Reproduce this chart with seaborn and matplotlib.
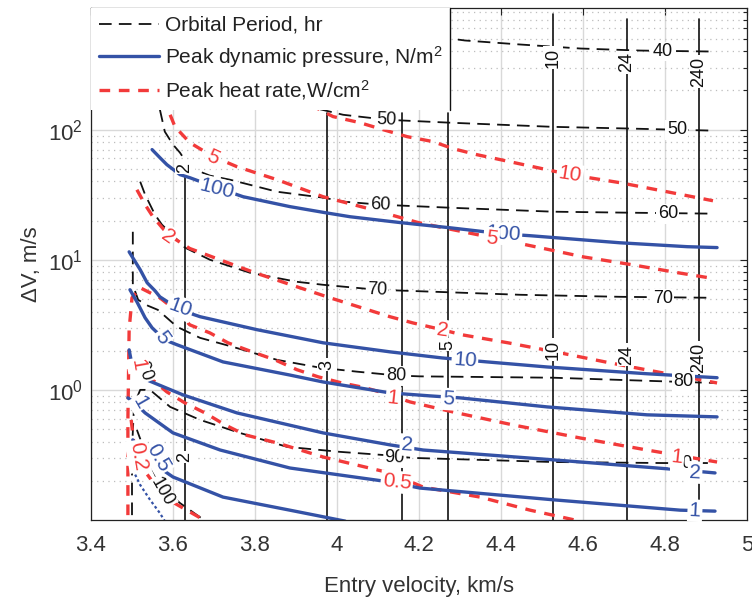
import numpy as np
import pandas as pd
import matplotlib
matplotlib.use("Agg")
import matplotlib.pyplot as plt
from matplotlib.lines import Line2D
import seaborn as sns

# ---------------- data ----------------
# Orbital period contours, hr (black dashed)
P40_X = [4.295, 4.312, 4.446, 4.593, 4.739, 4.917]
P40_Y = [492, 484, 451, 420, 405, 398]
P50_X = [3.910, 4.015, 4.122, 4.276, 4.527, 4.707, 4.917]
P50_Y = [156, 130, 119, 113, 105, 102, 98.2]
P60_X = [3.568, 3.580, 3.600, 3.617, 3.641, 3.690, 3.739, 3.854, 3.966, 4.020, 4.105, 4.276, 4.527, 4.707, 4.917]
P60_Y = [142.6, 96.5, 76.7, 66.5, 51.0, 44.3, 41.2, 33.3, 30.0, 27.9, 26.5, 25.1, 23.4, 23.0, 22.6]
P70_X = [3.520, 3.532, 3.544, 3.556, 3.573, 3.598, 3.629, 3.690, 3.788, 3.902, 3.966, 4.098, 4.446, 4.690, 4.917]
P70_Y = [39.8, 31.6, 26.5, 22.2, 18.6, 15.6, 12.4, 10.0, 7.94, 6.77, 6.42, 5.88, 5.38, 5.19, 5.10]
P80_X = [3.502, 3.502, 3.515, 3.539, 3.563, 3.610, 3.666, 3.746, 3.854, 3.959, 4.049, 4.146, 4.202, 4.527, 4.844, 4.922]
P80_Y = [16.4, 6.42, 4.92, 4.43, 4.12, 3.05, 2.51, 2.14, 1.70, 1.48, 1.38, 1.29, 1.27, 1.24, 1.15, 1.13]
P90_X = [3.500, 3.500, 3.505, 3.520, 3.544, 3.593, 3.666, 3.763, 3.878, 4.007, 4.112, 4.185, 4.527, 4.795, 4.922]
P90_Y = [0.109, 0.345, 0.767, 1.0, 1.0, 0.740, 0.588, 0.467, 0.365, 0.334, 0.316, 0.300, 0.279, 0.274, 0.274]
P100_X = [3.512, 3.539, 3.568, 3.617, 3.666, 3.680]
P100_Y = [0.492, 0.290, 0.186, 0.135, 0.105, 0.098]

# Peak dynamic pressure contours, N/m^2 (blue solid)
Q100_X = [3.549, 3.568, 3.585, 3.617, 3.641, 3.707, 3.771, 3.885, 3.971, 4.032, 4.154, 4.276, 4.405, 4.471, 4.690, 4.854, 4.927]
Q100_Y = [70.2, 60.9, 53.8, 45.1, 42.7, 35.8, 30.5, 25.6, 23.0, 21.4, 19.3, 17.6, 15.8, 15.3, 13.5, 12.6, 12.4]
Q10_X = [3.493, 3.520, 3.537, 3.556, 3.568, 3.617, 3.666, 3.805, 3.966, 4.129, 4.256, 4.366, 4.512, 4.756, 4.927]
Q10_Y = [11.5, 8.38, 6.65, 5.78, 5.19, 4.12, 3.65, 2.90, 2.30, 1.96, 1.76, 1.64, 1.50, 1.33, 1.24]
Q5_X = [3.495, 3.512, 3.532, 3.549, 3.580, 3.610, 3.722, 3.885, 3.966, 4.129, 4.227, 4.300, 4.512, 4.756, 4.927]
Q5_Y = [5.88, 4.75, 3.58, 3.0, 2.42, 2.22, 1.64, 1.30, 1.15, 0.948, 0.899, 0.868, 0.740, 0.643, 0.620]
Q2_X = [3.493, 3.500, 3.512, 3.537, 3.624, 3.756, 3.966, 4.129, 4.210, 4.527, 4.837, 4.922]
Q2_Y = [2.03, 1.56, 1.38, 1.19, 0.916, 0.665, 0.467, 0.378, 0.345, 0.290, 0.243, 0.230]
Q1_X = [3.490, 3.512, 3.532, 3.600, 3.715, 3.885, 4.129, 4.202, 4.527, 4.837, 4.922]
Q1_Y = [0.868, 0.767, 0.665, 0.467, 0.345, 0.251, 0.196, 0.176, 0.143, 0.119, 0.117]
Q05_X = [3.502, 3.532, 3.600, 3.722, 3.885, 4.020]
Q05_Y = [0.413, 0.300, 0.214, 0.150, 0.119, 0.098]
Q02_X = [3.502, 3.520, 3.544, 3.568, 3.580]
Q02_Y = [0.243, 0.186, 0.143, 0.113, 0.098]

# Peak heat rate contours, W/cm^2 (red dashed)
H10_X = [3.934, 3.990, 4.056, 4.112, 4.171, 4.234, 4.283, 4.341, 4.398, 4.512, 4.568, 4.690, 4.805, 4.917]
H10_Y = [156, 126, 113, 100, 88.3, 80.9, 71.4, 64.2, 58.8, 49.2, 45.1, 39.1, 33.3, 28.4]
H5_X = [3.593, 3.605, 3.641, 3.698, 3.756, 3.854, 3.966, 4.088, 4.198, 4.283, 4.378, 4.483, 4.602, 4.720, 4.832, 4.922]
H5_Y = [130, 105, 79.4, 62.0, 51.9, 41.2, 30.5, 24.2, 19.3, 17.0, 14.8, 12.6, 10.5, 9.15, 7.94, 7.14]
H2_X = [3.512, 3.532, 3.551, 3.588, 3.641, 3.734, 3.800, 3.902, 3.983, 4.076, 4.129, 4.185, 4.256, 4.305, 4.417, 4.532, 4.654, 4.768, 4.927]
H2_Y = [34.5, 26.5, 21.4, 15.6, 12.2, 9.48, 7.94, 6.20, 5.10, 4.12, 3.65, 3.27, 2.90, 2.65, 2.30, 1.96, 1.64, 1.40, 1.13]
H1_X = [3.490, 3.490, 3.493, 3.500, 3.520, 3.568, 3.605, 3.641, 3.690, 3.734, 3.793, 3.849, 3.902, 3.954, 4.012, 4.068, 4.129, 4.178, 4.293, 4.429, 4.593, 4.756, 4.927]
H1_Y = [0.109, 0.588, 2.90, 5.10, 6.09, 5.10, 4.12, 3.16, 2.74, 2.30, 1.96, 1.70, 1.43, 1.26, 1.13, 1.04, 0.916, 0.808, 0.665, 0.538, 0.427, 0.345, 0.279]
H05_X = [3.507, 3.544, 3.585, 3.629, 3.678, 3.727, 3.776, 3.854, 3.966, 4.129, 4.210, 4.349, 4.471, 4.580, 4.617]
H05_Y = [1.70, 1.24, 0.965, 0.794, 0.665, 0.538, 0.451, 0.391, 0.305, 0.230, 0.179, 0.150, 0.119, 0.100, 0.092]
H02_X = [3.498, 3.505, 3.520, 3.556, 3.598, 3.666, 3.680]
H02_Y = [0.588, 0.378, 0.265, 0.186, 0.138, 0.104, 0.097]

# Near-vertical black solid contours and their labels
V_X = [3.629, 3.976, 4.159, 4.271, 4.527, 4.707, 4.883]
V_TOP = [43.5, 133, 133, 133, 767, 702, 702]
V_BOTTOM = 0.1
V_LABELS = [("2", 3.629, 51.0), ("2", 3.629, 0.305), ("3", 3.976, 1.56), ("5", 4.271, 2.22),
            ("10", 4.527, 358), ("10", 4.527, 2.03), ("24", 4.707, 328), ("24", 4.707, 1.86),
            ("240", 4.883, 279), ("240", 4.883, 1.76)]

# contour labels: (text, x, y, rotation)
P_LABELS = [("40", 4.795, 398, 0), ("50", 4.122, 119, -2), ("50", 4.829, 100, 0),
            ("60", 4.105, 26.5, -2), ("60", 4.807, 22.6, 0), ("70", 4.098, 5.88, -2),
            ("70", 4.795, 5.0, 0), ("80", 4.146, 1.28, -1), ("80", 4.844, 1.15, 0),
            ("90", 4.141, 0.30, -1), ("90", 4.841, 0.27, 0), ("90", 3.530, 1.40, -70),
            ("100", 3.573, 0.164, -60)]
Q_LABELS = [("100", 3.707, 35.0, -14), ("100", 4.405, 15.8, -4), ("10", 3.617, 4.27, -20),
            ("10", 4.312, 1.70, -4), ("5", 3.573, 2.51, -55), ("5", 4.271, 0.85, -4),
            ("2", 4.171, 0.378, -4), ("2", 4.873, 0.232, -3), ("1", 4.873, 0.118, -3),
            ("1", 3.520, 0.80, -60), ("0.5", 3.563, 0.30, -60)]
H_LABELS = [("5", 3.698, 61.0, -25), ("5", 4.378, 14.6, -8), ("10", 4.568, 45.0, -9),
            ("2", 3.588, 15.0, -35), ("2", 4.256, 2.85, -8), ("1", 4.137, 0.87, -6),
            ("1", 4.829, 0.305, -6), ("0.5", 4.146, 0.196, -6), ("1", 3.515, 1.55, -80),
            ("0.2", 3.515, 0.31, -80)]

XTICKS = [3.4, 3.6, 3.8, 4.0, 4.2, 4.4, 4.6, 4.8, 5.0]
XTICK_LABELS = ["3.4", "3.6", "3.8", "4", "4.2", "4.4", "4.6", "4.8", "5"]

BLUE = "#3452a6"
RED = "#f23a3a"
BLACK = "#111111"

# ---------------- figure ----------------
sns.set_style("white")
plt.rcParams["font.family"] = ["Liberation Sans", "DejaVu Sans"]
plt.rcParams["mathtext.fontset"] = "custom"
plt.rcParams["mathtext.rm"] = "Liberation Sans"
plt.rcParams["mathtext.it"] = "Liberation Sans:italic"

fig = plt.figure(figsize=(7.52, 5.99), dpi=100)
ax = fig.add_axes([91 / 752, 1 - 520 / 599, 656 / 752, 512 / 599])
ax.set_yscale("log")

period_dash = (0, (7, 4))
heat_dash = (0, (3.2, 2.6))

def draw(xs, ys, color, lw, ls, z=2):
    sns.lineplot(x=xs, y=ys, sort=False, estimator=None, color=color, lw=lw,
                 linestyle=ls, ax=ax, zorder=z)

for xs, ys in [(P40_X, P40_Y), (P50_X, P50_Y), (P60_X, P60_Y), (P70_X, P70_Y),
               (P80_X, P80_Y), (P90_X, P90_Y), (P100_X, P100_Y)]:
    draw(xs, ys, BLACK, 1.3, period_dash, 2.2)

for xs, ys in [(Q100_X, Q100_Y), (Q10_X, Q10_Y), (Q5_X, Q5_Y), (Q2_X, Q2_Y),
               (Q1_X, Q1_Y), (Q05_X, Q05_Y)]:
    draw(xs, ys, BLUE, 2.4, "-", 2.4)
draw(Q02_X, Q02_Y, BLUE, 1.6, (0, (1.2, 1.2)), 2.4)

for xs, ys in [(H10_X, H10_Y), (H5_X, H5_Y), (H2_X, H2_Y), (H1_X, H1_Y),
               (H05_X, H05_Y), (H02_X, H02_Y)]:
    draw(xs, ys, RED, 2.4, heat_dash, 2.3)

for vx, vt in zip(V_X, V_TOP):
    draw([vx, vx], [V_BOTTOM, vt], BLACK, 1.2, "-", 2.1)

bbox = dict(boxstyle="square,pad=0.08", fc="white", ec="none")
for s, x, y in V_LABELS:
    ax.text(x, y, s, color=BLACK, fontsize=13, rotation=90, ha="center", va="center",
            bbox=bbox, zorder=4)
for s, x, y, r in P_LABELS:
    ax.text(x, y, s, color=BLACK, fontsize=13, rotation=r, ha="center", va="center",
            bbox=bbox, zorder=4)
for s, x, y, r in Q_LABELS:
    ax.text(x, y, s, color=BLUE, fontsize=15, rotation=r, ha="center", va="center",
            bbox=bbox, zorder=4)
for s, x, y, r in H_LABELS:
    ax.text(x, y, s, color=RED, fontsize=15, rotation=r, ha="center", va="center",
            bbox=bbox, zorder=4)

ax.set_xlim(3.4, 5.0)
ax.set_ylim(0.1, 860)
ax.set_xticks(XTICKS)
ax.set_xticklabels(XTICK_LABELS)
ax.set_yticks([1, 10, 100])
ax.yaxis.set_minor_locator(matplotlib.ticker.LogLocator(base=10, subs=np.arange(2, 10)))
ax.yaxis.set_minor_formatter(matplotlib.ticker.NullFormatter())

ax.grid(True, which="major", color="#d9d9d9", lw=1.0, ls="-")
ax.yaxis.grid(True, which="minor", color="#bdbdbd", lw=0.9, ls=(0, (1, 3.5)))
ax.set_axisbelow(True)

ax.tick_params(which="both", direction="in", top=True, right=True, colors="#222222",
               labelcolor="#333333")
ax.tick_params(which="major", length=5, width=0.8, labelsize=16)
ax.tick_params(which="minor", length=3, width=0.8)
ax.tick_params(axis="x", pad=11)
ax.tick_params(axis="y", pad=6)
for sp in ax.spines.values():
    sp.set_color("#222222")
    sp.set_linewidth(0.9)

ax.set_xlabel("Entry velocity, km/s", fontsize=16, color="#333333", labelpad=14)
ax.set_ylabel("\u0394V, m/s", fontsize=16, color="#333333", labelpad=4)

handles = [Line2D([], [], color=BLACK, lw=1.3, linestyle=period_dash),
           Line2D([], [], color=BLUE, lw=2.4),
           Line2D([], [], color=RED, lw=2.4, linestyle=heat_dash)]
labels = ["Orbital Period, hr", "Peak dynamic pressure, N/m$^2$", "Peak heat rate,W/cm$^2$"]
leg = ax.legend(handles, labels, loc="upper left", bbox_to_anchor=(0, 1), frameon=True,
                fancybox=False, facecolor="white", edgecolor="none", framealpha=1,
                fontsize=15, handlelength=2.9, handletextpad=0.25, labelspacing=0.42,
                borderpad=0.38, borderaxespad=0)
leg.set_zorder(10)
for t in leg.get_texts():
    t.set_color("#222222")

fig.canvas.draw()
bb = leg.get_window_extent().transformed(fig.transFigure.inverted())
fig.add_artist(Line2D([bb.x1, bb.x1], [bb.y0, bb.y1], color="#111111", lw=1.0, zorder=11))

fig.savefig("out.png", dpi=100)
